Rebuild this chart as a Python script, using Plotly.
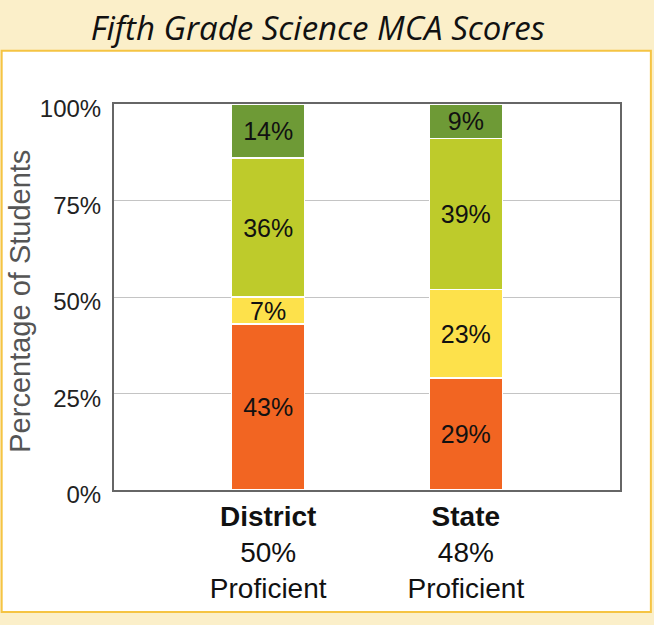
import plotly.graph_objects as go

categories = ["<b>District</b><br>50%<br>Proficient", "<b>State</b><br>48%<br>Proficient"]
levels = ["Does Not Meet", "Partially Meets", "Meets", "Exceeds"]
values = {
    "Does Not Meet": [43, 29],
    "Partially Meets": [7, 23],
    "Meets": [36, 39],
    "Exceeds": [14, 9],
}
colors = {
    "Does Not Meet": "#F26522",
    "Partially Meets": "#FDE14B",
    "Meets": "#BECB2B",
    "Exceeds": "#6E9A36",
}
y_ticks = [0, 25, 50, 75, 100]
y_tick_labels = ["0%", "25%", "50%", "75%", "100%"]

FONT = "Liberation Sans, Arial"

fig = go.Figure()
for lev in levels:
    fig.add_trace(go.Bar(
        x=categories, y=values[lev], name=lev,
        marker=dict(color=colors[lev], line=dict(color="white", width=1.5)),
        text=[f"{v}%" for v in values[lev]],
        textposition="inside", insidetextanchor="middle", textangle=0,
        textfont=dict(family=FONT, size=25, color="#111"),
        width=0.37, hoverinfo="skip",
    ))

fig.update_layout(
    barmode="stack",
    width=654, height=625,
    margin=dict(l=114, r=34, t=104, b=135),
    paper_bgcolor="#FBEFC9",
    plot_bgcolor="white",
    showlegend=False,
    uniformtext=dict(minsize=25, mode="show"),
    title=dict(text="<i>Fifth Grade Science MCA Scores</i>", x=0.486, xanchor="center",
               y=1 - 28 / 625, yanchor="middle", yref="container",
               font=dict(family="Open Sans", size=33, color="#111")),
    shapes=[dict(type="rect", xref="paper", yref="paper", x0=-0.222, x1=1.061, y0=-0.316, y1=1.138,
                 fillcolor="white", line=dict(color="#F5C443", width=2), layer="below")],
    annotations=[dict(text="Percentage of Students", xref="paper", yref="paper", x=-0.186, y=0.49,
                      textangle=-90, showarrow=False, xanchor="center", yanchor="middle",
                      font=dict(family=FONT, size=29, color="#555"))],
)
fig.update_xaxes(range=[-0.78, 1.78], showline=True, mirror=True, linecolor="#666", linewidth=2,
                 showgrid=False, ticks="", ticklabelstandoff=0,
                 tickfont=dict(family=FONT, size=28, color="#111"))
fig.update_yaxes(range=[0, 100], tickvals=y_ticks, ticktext=y_tick_labels, showline=True, mirror=True,
                 linecolor="#666", linewidth=2, gridcolor="#C4C4C4", gridwidth=1.2, ticks="",
                 ticklabelstandoff=6, ticklabelshift=5, zeroline=False,
                 tickfont=dict(family=FONT, size=24, color="#222"))

fig.write_html("out.html", config={"displayModeBar": False},
               post_script="document.body.style.margin='0px';")
